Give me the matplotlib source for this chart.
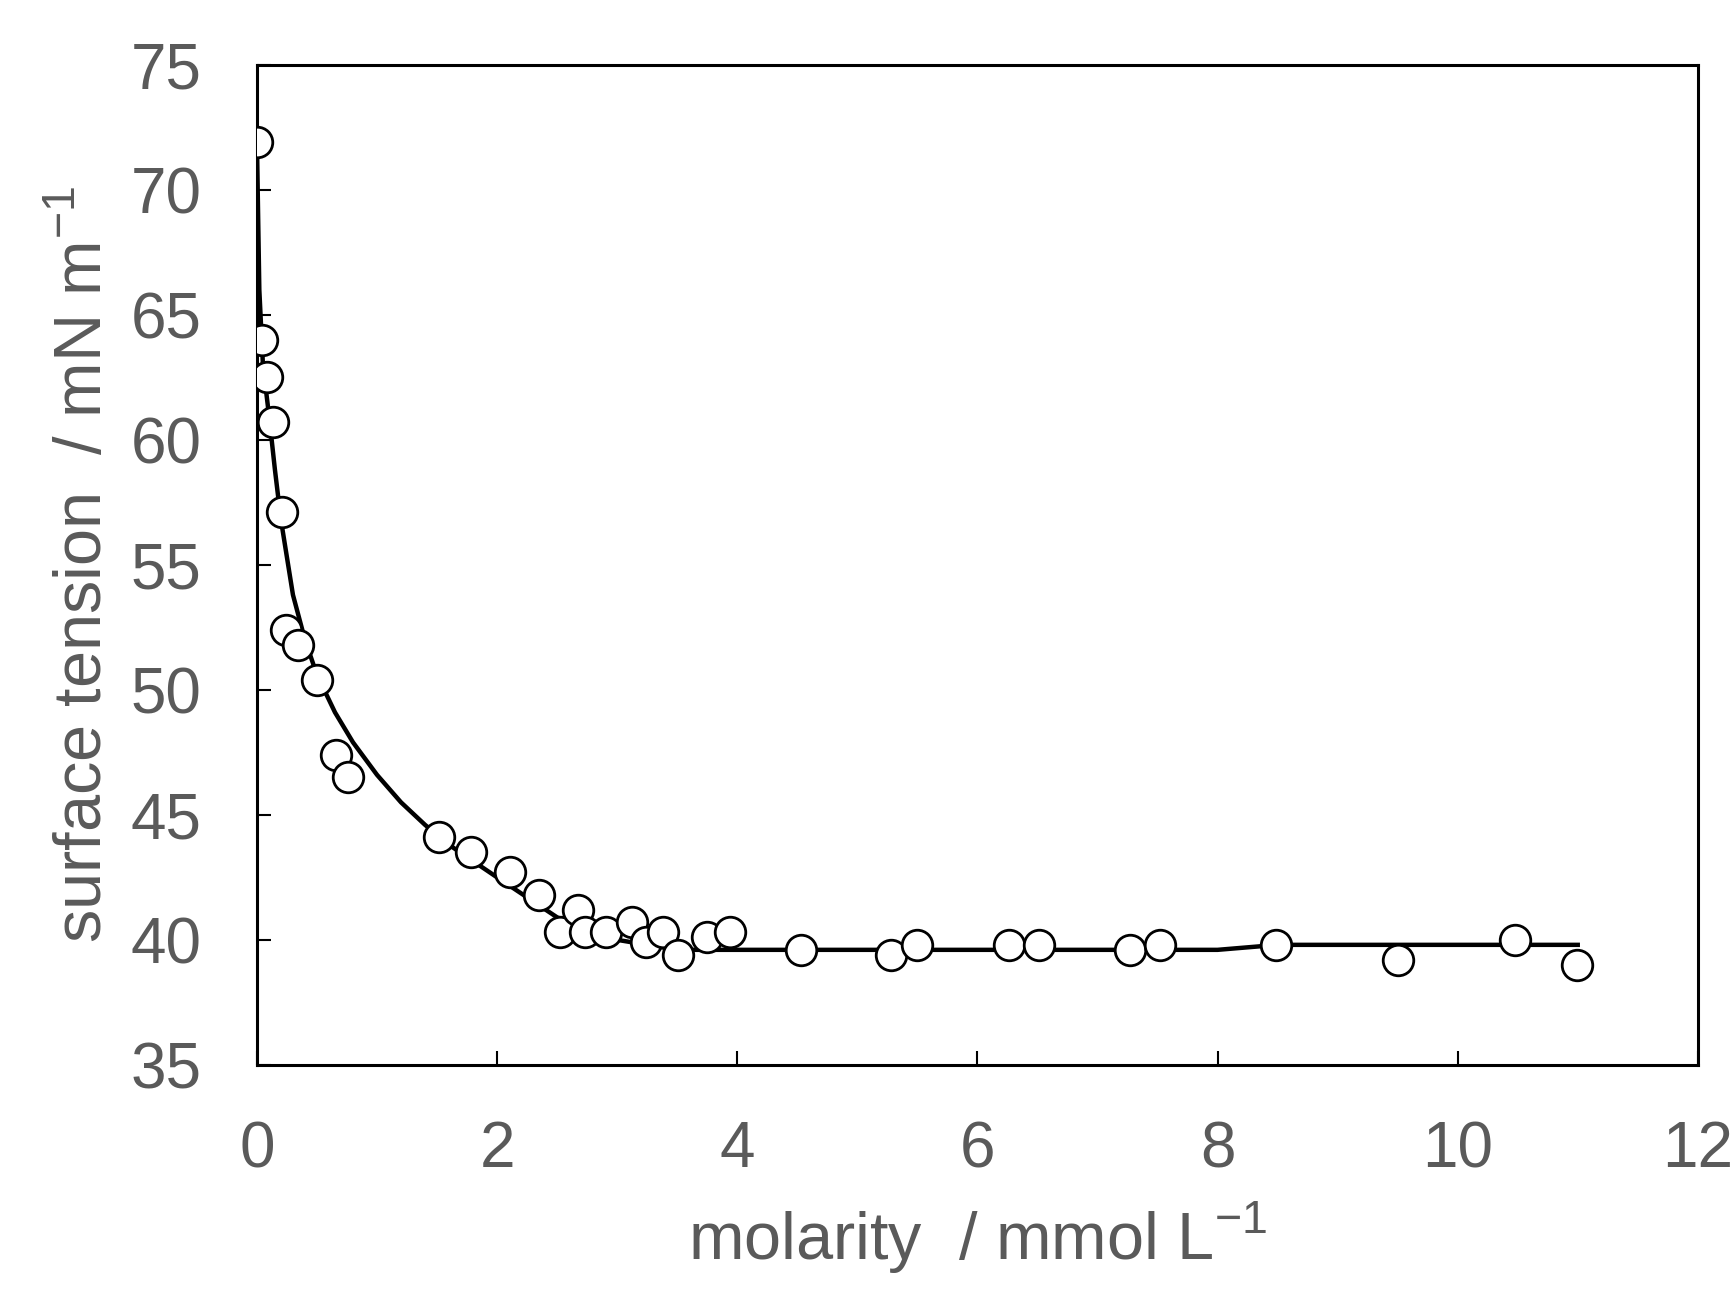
import matplotlib
matplotlib.use("Agg")
import matplotlib.pyplot as plt

x_pts = [0.0, 0.04, 0.08, 0.13, 0.21, 0.24, 0.34, 0.5, 0.66, 0.76, 1.52, 1.78, 2.11, 2.35, 2.52, 2.67,
         2.73, 2.91, 3.12, 3.24, 3.38, 3.51, 3.75, 3.94, 4.53, 5.28, 5.5, 6.26, 6.51, 7.27, 7.52, 8.49,
         9.5, 10.48, 10.99]
y_pts = [71.9, 64.0, 62.5, 60.7, 57.1, 52.4, 51.8, 50.4, 47.4, 46.5, 44.1, 43.5, 42.7, 41.8, 40.3, 41.2,
         40.3, 40.3, 40.7, 39.9, 40.3, 39.4, 40.1, 40.3, 39.6, 39.4, 39.8, 39.8, 39.8, 39.6, 39.8, 39.8,
         39.2, 40.0, 39.0]
x_fit = [0.0, 0.02, 0.05, 0.1, 0.15, 0.2, 0.3, 0.4, 0.5, 0.65, 0.8, 1.0, 1.2, 1.4, 1.6, 2.0, 2.5, 3.0, 3.5, 4.0, 8.0, 8.5, 11.0]
y_fit = [71.9, 66.0, 63.0, 61.0, 58.8, 56.8, 53.8, 52.0, 50.6, 49.1, 47.9, 46.6, 45.5, 44.6, 43.8, 42.5, 40.9, 40.0, 39.6, 39.6, 39.6, 39.8, 39.8]

plt.rcParams['font.family'] = ['Liberation Sans', 'DejaVu Sans']
grey = '#5a5a5a'
fig = plt.figure(figsize=(17.36, 12.97), dpi=100)
ax = fig.add_axes([0.148, 0.179, 0.830, 0.771])
ax.plot(x_fit, y_fit, color='black', lw=3.2, zorder=2)
ax.plot(x_pts, y_pts, 'o', ms=22, mfc='white', mec='black', mew=2, zorder=3)
ax.set_xlim(0, 12)
ax.set_ylim(35, 75)
ax.set_xticks(range(0, 13, 2))
ax.set_yticks(range(35, 76, 5))
ax.tick_params(direction='in', length=10, width=1.5, labelsize=46, labelcolor=grey)
ax.tick_params(axis='x', pad=40)
ax.tick_params(axis='y', pad=40)
for s in ax.spines.values():
    s.set_linewidth(2.2)
ax.set_xlabel('molarity  / mmol L$^{\\mathregular{-1}}$', fontsize=48, color=grey, labelpad=14)
ax.set_ylabel('surface tension  / mN m$^{\\mathregular{-1}}$', fontsize=48, color=grey, labelpad=10)
fig.savefig('out.png', dpi=100)
